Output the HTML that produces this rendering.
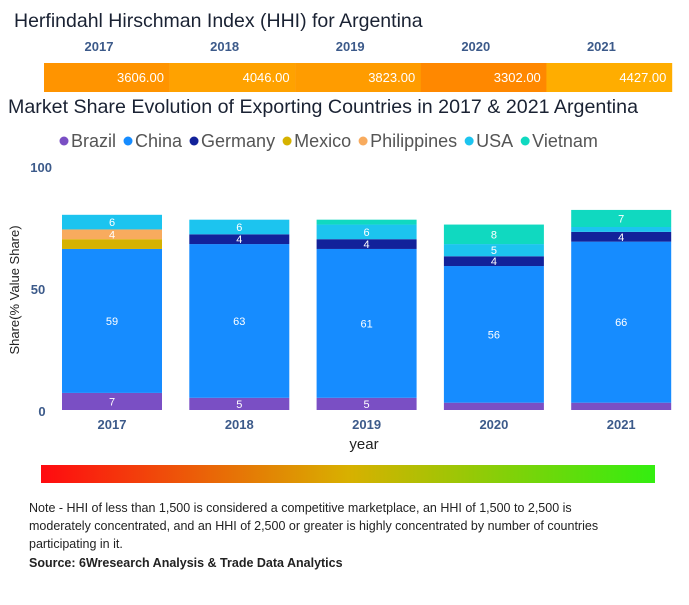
<!DOCTYPE html>
<html><head><meta charset="utf-8"><style>
body{margin:0;background:#fff;font-family:"Liberation Sans",sans-serif;}
svg text{font-family:"Liberation Sans",sans-serif;}
</style></head><body>
<svg id="c" width="689" height="600" xmlns="http://www.w3.org/2000/svg">
<defs><linearGradient id="g" x1="0" x2="1"><stop offset="0" stop-color="#ff0a10"/><stop offset="0.5" stop-color="#d8b000"/><stop offset="1" stop-color="#33ee10"/></linearGradient></defs>
<text x="14" y="27" font-size="19.5" fill="#1a2233">Herfindahl Hirschman Index (HHI) for Argentina</text>
<g id="hhi"></g>
<text x="8" y="113" font-size="19.5" fill="#1a2233" textLength="630" lengthAdjust="spacingAndGlyphs">Market Share Evolution of Exporting Countries in 2017 &amp; 2021 Argentina</text>
<g id="legend"></g>
<g id="bars"></g>
<text x="52" y="172" font-size="13" font-weight="bold" fill="#3c5a8a" text-anchor="end">100</text>
<text x="38" y="294" font-size="13" font-weight="bold" fill="#3c5a8a" text-anchor="middle">50</text>
<text x="42" y="416" font-size="13" font-weight="bold" fill="#3c5a8a" text-anchor="middle">0</text>
<text transform="translate(19,290) rotate(-90)" text-anchor="middle" font-size="13" fill="#222">Share(% Value Share)</text>
<text x="364" y="449" text-anchor="middle" font-size="15" fill="#222">year</text>
<rect x="41" y="465" width="614" height="18" fill="url(#g)"/>
<text font-size="12.5" fill="#222"><tspan x="29" y="512">Note - HHI of less than 1,500 is considered a competitive marketplace, an HHI of 1,500 to 2,500 is</tspan><tspan x="29" y="530">moderately concentrated, and an HHI of 2,500 or greater is highly concentrated by number of countries</tspan><tspan x="29" y="548">participating in it.</tspan></text>
<text x="29" y="567" font-size="12.5" font-weight="bold" fill="#222">Source: 6Wresearch Analysis &amp; Trade Data Analytics</text>
</svg>
<script>
const years=["2017","2018","2019","2020","2021"];
const hhiValues=[3606,4046,3823,3302,4427];
const hhiColors=["#ff9400","#ffa200","#ff9c00","#ff8800","#ffad00"];
const countries=["Brazil","China","Germany","Mexico","Philippines","USA","Vietnam"];
const colors=["#7a4fc4","#168cff","#12229a","#d6b200","#f8ab5e","#1cc4ef","#10d9c0"];
const brazil=[7,5,5,3,3];
const china=[59,63,61,56,66];
const germany=[0,4,4,4,4];
const mexico=[4,0,0,0,0];
const philippines=[4,0,0,0,0];
const usa=[6,6,6,5,2];
const vietnam=[0,0,2,8,7];
const series=[brazil,china,germany,mexico,philippines,usa,vietnam];
const NS="http://www.w3.org/2000/svg";
function mk(t,a,p){const e=document.createElementNS(NS,t);for(const k in a)e.setAttribute(k,a[k]);p.appendChild(e);return e;}
const y0=410,y100=166;
function yS(v){return y0-(y0-y100)*v/100;}
function xS(i){return 62+i*127.3;}
const bw=100;
const hhi=document.getElementById('hhi');
hhiValues.forEach((v,i)=>{
 const x=44+i*125.6;
 const t=mk('text',{x:x+55,y:51,'font-size':13,'font-weight':'bold',fill:'#3c5a8a','text-anchor':'middle'},hhi);
 
 
 t.textContent=years[i];
 const r=mk('rect',{x:x,y:63,width:125.8,height:29,fill:hhiColors[i]},hhi);
 
 
 const vt=mk('text',{x:x+120,y:82,'font-size':13,fill:'#fff','text-anchor':'end'},hhi);
 
 
 vt.textContent=v.toFixed(2);
});
const lg=document.getElementById('legend');
let lx=64;
countries.forEach((c,i)=>{
 const d=mk('circle',{cx:lx,cy:141,r:4.5,fill:colors[i]},lg);
 
 
 const t=mk('text',{x:lx+7,y:147,'font-size':18,fill:'#555'},lg);
 
 
 t.textContent=c;
 lx+=7+t.getComputedTextLength()+12;
});
const bg=document.getElementById('bars');
years.forEach((yr,i)=>{
 let cum=0;
 series.forEach((s,k)=>{
  const v=s[i]; if(!v) return;
  const yt=yS(cum+v),yb=yS(cum);
  const r=mk('rect',{x:xS(i),y:yt,width:bw,height:yb-yt,fill:colors[k]},bg);
  
  
  if(v>=4 && k!==3 && v>=(k===0?4:4) && !(k===0&&v<4)){
   const t=mk('text',{x:xS(i)+bw/2,y:(yt+yb)/2+4,'font-size':11,fill:'#fff','text-anchor':'middle'},bg);
   
   
   t.textContent=v;
  }
  cum+=v;
 });
 const xt=mk('text',{x:xS(i)+bw/2,y:429,'font-size':13,'font-weight':'bold',fill:'#3c5a8a','text-anchor':'middle'},bg);
 
 
 xt.textContent=yr;
});
</script>
</body></html>
